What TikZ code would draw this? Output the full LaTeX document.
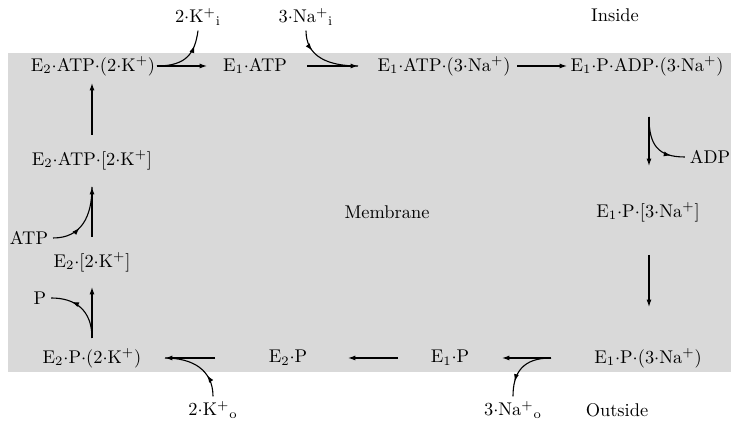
\documentclass[tikz,border=0pt]{standalone}
\usetikzlibrary{decorations.markings,arrows.meta}
\newcommand\md{\ensuremath{{\cdot}}}
\begin{document}
\begin{tikzpicture}[x=0.5434pt,y=-0.5434pt, semithick, >={Latex[length=4pt,width=2.7pt]},
  lbl/.style={inner sep=0pt},
  ion/.style={inner sep=2.4pt},
  midarr/.style={postaction={decorate},decoration={markings,mark=at position #1 with {\arrow{Latex[length=4pt,width=2.7pt]}}}}]
\useasboundingbox (0,0) rectangle (731,428);
\fill[black!15] (8,53) rectangle (731,372);
% states
\node[lbl] (n1)  at (93,66)  {E$_2$\md ATP\md(2\md K$^+$)};
\node[lbl] (n2)  at (255,66) {E$_1$\md ATP};
\node[lbl] (n3)  at (444,66) {E$_1$\md ATP\md(3\md Na$^+$)};
\node[lbl] (n4)  at (647,66) {E$_1$\md P\md ADP\md(3\md Na$^+$)};
\node[lbl] (n5)  at (648,212) {E$_1$\md P\md[3\md Na$^+$]};
\node[lbl] (n6)  at (648,358) {E$_1$\md P\md(3\md Na$^+$)};
\node[lbl] (n7)  at (450,358) {E$_1$\md P};
\node[lbl] (n8)  at (288,358) {E$_2$\md P};
\node[lbl] (n9)  at (92,358) {E$_2$\md P\md(2\md K$^+$)};
\node[lbl] (n10) at (92,262) {E$_2$\md[2\md K$^+$]};
\node[lbl] (n11) at (92,160) {E$_2$\md ATP\md[2\md K$^+$]};
% ions and labels
\node[ion] (ki) at (198,17) {2\md K$^+{}_\mathrm{i}$};
\node[ion] (nai) at (306,17) {3\md Na$^+{}_\mathrm{i}$};
\node[lbl] (inside) at (615,15) {Inside};
\node[ion] (adp) at (710,157) {ADP};
\node[lbl] (membrane) at (387,212) {Membrane};
\node[ion] (atp) at (29,238) {ATP};
\node[ion] (p) at (40,298) {P};
\node[ion] (ko) at (213,410) {2\md K$^+{}_\mathrm{o}$};
\node[ion] (nao) at (513,410) {3\md Na$^+{}_\mathrm{o}$};
\node[lbl] (outside) at (617,410) {Outside};
% arrow ends
\coordinate (a1s) at (157,66);  \coordinate (a1e) at (207,66);
\coordinate (a2s) at (307,66);  \coordinate (a2e) at (358,66);
\coordinate (a3s) at (517,66);  \coordinate (a3e) at (567,66);
\coordinate (a4s) at (649,117); \coordinate (a4e) at (649,166);
\coordinate (a5s) at (649,255); \coordinate (a5e) at (649,307);
\coordinate (a6s) at (551,358); \coordinate (a6e) at (502,358);
\coordinate (a7s) at (398,358); \coordinate (a7e) at (348,358);
\coordinate (a8s) at (215,358); \coordinate (a8e) at (165,358);
\coordinate (a9s) at (92,338);  \coordinate (a9e) at (92,287);
\coordinate (a10s) at (92,237); \coordinate (a10e) at (92,187);
\coordinate (a11s) at (92,135); \coordinate (a11e) at (92,83);
% main arrows
\foreach \i in {1,...,11} \draw[->] (a\i s) -- (a\i e);
% branches
\draw[midarr=0.75] (a1s) .. controls +(30,0) and +(-3,22) .. (ki.south);
\draw[midarr=0.3] (nai.south) .. controls +(0,26) and +(-30,0) .. (a2e);
\draw[midarr=0.78] (a4s) .. controls +(0,28) and +(-27,0) .. (adp.west);
\draw[midarr=0.4] (atp.east) .. controls +(28,0) and +(0,30) .. (a10e);
\draw[midarr=0.68] (a9s) .. controls +(0,-28) and +(24,0) .. (p.east);
\draw[midarr=0.32] (ko.north) .. controls +(0,-26) and +(28,0) .. (a8e);
\draw[midarr=0.76] (a6s) .. controls +(-28,0) and +(0,-24) .. (nao.north);
\end{tikzpicture}
\end{document}
